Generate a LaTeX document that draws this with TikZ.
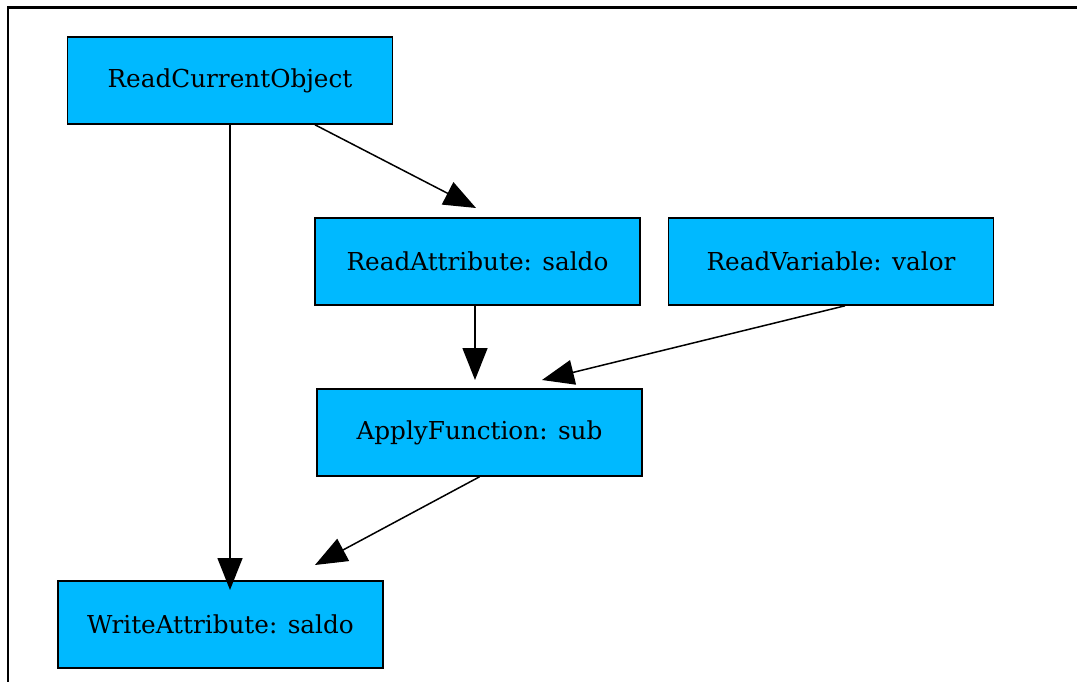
\documentclass[tikz,border=0pt]{standalone}
\usepackage{fontspec}
\setmainfont{DejaVu Serif}
\usetikzlibrary{arrows.meta}
\definecolor{boxfill}{RGB}{0,185,255}
\tikzset{
  box/.style={draw=black, line width=1.6pt, fill=boxfill, minimum width=325pt, minimum height=87pt, inner sep=0pt, font=\fontsize{24.7}{28}\selectfont},
  edge/.style={line width=1.5pt, -{Triangle[length=32pt, width=25pt]}},
}
\begin{document}
\begin{tikzpicture}[x=1pt, y=-1pt]
\useasboundingbox (0,0) rectangle (1077,682);
\fill[white] (0,0) rectangle (1077,682);
\coordinate (fa) at (8,682);
\coordinate (fb) at (8,7.5);
\coordinate (fc) at (1077,7.5);
\draw[line width=2.2pt] (fa) -- (fb) -- (fc);
\node[box] (rco) at (230,80.5) {ReadCurrentObject};
\node[box] (ras) at (477.5,261.5) {ReadAttribute: saldo};
\node[box] (rvv) at (831,261.5) {ReadVariable: valor};
\node[box] (afs) at (479.5,432.5) {ApplyFunction: sub};
\node[box] (was) at (220.5,624.5) {WriteAttribute: saldo};
\coordinate (t1) at (230,590);
\coordinate (t2) at (476,208);
\coordinate (t3) at (475,380);
\coordinate (t4) at (542,380);
\coordinate (t5) at (315,565);
\draw[edge] (rco.south -| t1) -- (t1);
\draw[edge] ([xshift=85pt]rco.south) -- (t2);
\draw[edge] (ras.south -| t3) -- (t3);
\draw[edge] ([xshift=14pt]rvv.south) -- (t4);
\draw[edge] (afs.south) -- (t5);
\end{tikzpicture}
\end{document}
